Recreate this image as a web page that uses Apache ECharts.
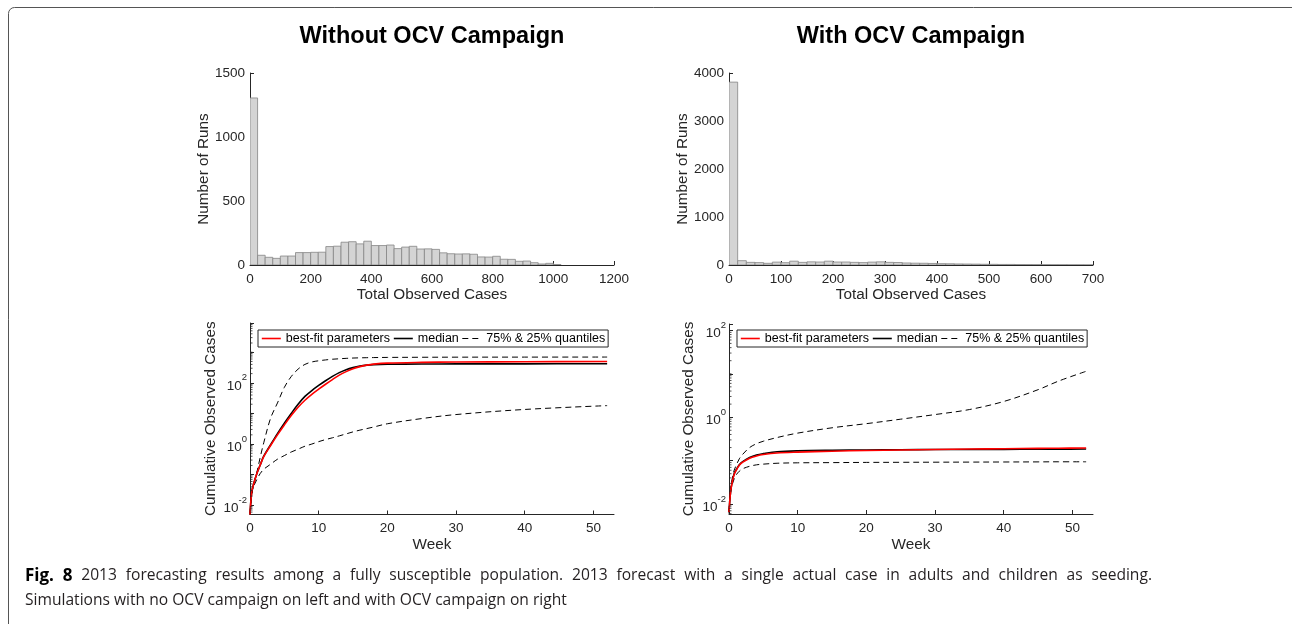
<!DOCTYPE html>
<html><head><meta charset="utf-8">
<script src="https://cdn.jsdelivr.net/npm/echarts@6/dist/echarts.min.js"></script>
<style>html,body{margin:0;padding:0;background:#fff}#c{width:1292px;height:624px}</style>
</head><body><div id="c"></div>
<script>
// ---------- DATA ----------
const noOcvBinWidth = 25;
const noOcvCounts = [1305, 76, 60, 52, 70, 70, 97, 97, 99, 100, 144, 147, 178, 182, 165, 186, 152, 152, 156, 128, 140, 146, 125, 126, 122, 95, 88, 86, 87, 84, 63, 62, 68, 45, 44, 29, 31, 18, 8, 13, 4];
const ocvBinWidth = 100 / 6;
const ocvCounts = [3810, 90, 55, 50, 35, 60, 48, 80, 55, 66, 62, 80, 62, 62, 55, 50, 60, 66, 55, 52, 42, 38, 36, 32, 28, 26, 22, 20, 18, 15, 14, 12, 12, 10, 9, 8, 7, 6, 5, 4, 4, 3];

const weeksL   = [0, 0.25, 0.5, 1, 1.5, 2, 3, 4, 5, 6, 7, 8, 9, 10, 11, 12, 13, 14, 15, 16, 17, 18, 20, 25, 30, 40, 52];
const bestFitL = [0.005, 0.027, 0.047, 0.11, 0.21, 0.39, 0.9, 2.0, 4.2, 8.5, 16, 27, 42, 62, 90, 128, 178, 232, 288, 338, 378, 408, 440, 465, 478, 490, 500];
const medianL  = [0.005, 0.027, 0.047, 0.11, 0.21, 0.40, 0.95, 2.2, 4.8, 10, 20, 36, 56, 82, 117, 162, 215, 268, 314, 352, 378, 393, 405, 412, 415, 417, 420];
const q75L     = [0.0056, 0.02, 0.045, 0.12, 0.38, 1.1, 7, 22, 71, 160, 280, 400, 480, 525, 560, 590, 610, 630, 645, 655, 662, 668, 676, 684, 689, 692, 695];
const q25L     = [0.005, 0.025, 0.04, 0.07, 0.11, 0.15, 0.22, 0.32, 0.42, 0.55, 0.68, 0.85, 1.0, 1.2, 1.4, 1.6, 1.85, 2.15, 2.5, 2.85, 3.2, 3.6, 4.6, 6.8, 9.2, 13.5, 18];

const weeksR   = [0, 0.1, 0.25, 0.5, 0.75, 1, 1.5, 2, 3, 4, 5, 7, 10, 15, 20, 25, 30, 35, 40, 45, 48, 52];
const bestFitR = [0.0065, 0.011, 0.02, 0.034, 0.048, 0.058, 0.078, 0.092, 0.114, 0.128, 0.138, 0.15, 0.157, 0.165, 0.171, 0.176, 0.181, 0.185, 0.188, 0.191, 0.193, 0.195];
const medianR  = [0.0065, 0.011, 0.02, 0.035, 0.05, 0.06, 0.08, 0.095, 0.118, 0.135, 0.145, 0.16, 0.168, 0.173, 0.176, 0.178, 0.18, 0.181, 0.182, 0.183, 0.184, 0.185];
const q75R     = [0.0066, 0.014, 0.023, 0.04, 0.06, 0.075, 0.11, 0.14, 0.2, 0.245, 0.28, 0.34, 0.43, 0.57, 0.71, 0.9, 1.15, 1.5, 2.3, 4.3, 6.8, 11.4];
const q25R     = [0.006, 0.0125, 0.02, 0.029, 0.038, 0.046, 0.057, 0.065, 0.074, 0.08, 0.083, 0.087, 0.089, 0.09, 0.091, 0.0915, 0.092, 0.0925, 0.093, 0.0935, 0.094, 0.094];

const logLabelExponents = [-2, 0, 2];
const minorMultipliers = [2, 3, 4, 5, 6, 7, 8, 9];
const minorDecades = [-3, -2, -1, 0, 1, 2, 3];

const captionLabel = 'Fig. 8';
const captionLine1 = '2013 forecasting results among a fully susceptible population. 2013 forecast with a single actual case in adults and children as seeding.';
const captionLine2 = 'Simulations with no OCV campaign on left and with OCV campaign on right';

// ---------- STYLE HELPERS ----------
const FONT = '"Liberation Sans", Arial, sans-serif';
const AX = '#262626';

function linAxis(gi, min, max, interval, name, nameGap, isY, showMax) {
  return {
    type: 'value', gridIndex: gi, min, max, interval, name,
    nameLocation: 'middle', nameGap,
    nameTextStyle: { fontFamily: FONT, fontSize: 15.3, color: AX },
    axisLine: { show: true, lineStyle: { color: AX, width: 1 } },
    axisTick: { show: true, inside: true, length: 4, lineStyle: { color: AX } },
    axisLabel: { fontFamily: FONT, fontSize: 13.5, color: AX, margin: isY ? 5 : 7,
      showMaxLabel: showMax, formatter: v => String(v) },
    splitLine: { show: false }
  };
}
function logAxis(gi, min, max, name, nameGap) {
  return {
    type: 'log', logBase: 10, gridIndex: gi, min, max, name,
    nameLocation: 'middle', nameGap,
    nameTextStyle: { fontFamily: FONT, fontSize: 15.3, color: AX },
    axisLine: { show: true, lineStyle: { color: AX, width: 1 } },
    axisTick: { show: true, inside: true, length: 4, lineStyle: { color: AX } },
    axisLabel: {
      fontFamily: FONT, color: AX, margin: 3,
      showMinLabel: true, showMaxLabel: true,
      formatter: function (v) {
        const e = Math.round(Math.log10(v));
        if (Math.abs(Math.log10(v) - e) > 1e-6 || logLabelExponents.indexOf(e) < 0) return '';
        return '{b|10}{s|' + e + '}';
      },
      rich: {
        b: { fontFamily: FONT, fontSize: 13.5, color: AX, lineHeight: 20, verticalAlign: 'bottom' },
        s: { fontFamily: FONT, fontSize: 9.5, color: AX, lineHeight: 20, verticalAlign: 'top' }
      }
    },
    splitLine: { show: false }
  };
}
function histSeries(counts, width, idx) {
  return {
    type: 'custom', xAxisIndex: idx, yAxisIndex: idx, silent: true, clip: true,
    data: counts.map((c, i) => [i * width, (i + 1) * width, c]),
    encode: { x: [0, 1], y: 2 },
    renderItem: function (params, api) {
      const p0 = api.coord([api.value(0), api.value(2)]);
      const p1 = api.coord([api.value(1), 0]);
      return { type: 'rect', shape: { x: p0[0], y: p0[1], width: p1[0] - p0[0], height: p1[1] - p0[1] },
        style: { fill: '#d4d4d4', stroke: '#858585', lineWidth: 0.8 } };
    }
  };
}
function lineSeries(name, weeks, vals, idx, color, width, dashed) {
  return {
    type: 'line', name, xAxisIndex: idx, yAxisIndex: idx, symbol: 'none', showSymbol: false, smooth: 0.35,
    data: weeks.map((w, i) => [w, vals[i]]),
    lineStyle: { color, width, type: dashed ? [6, 4] : 'solid' },
    itemStyle: { color }, silent: true, z: dashed ? 3 : (color === '#000000' ? 4 : 5)
  };
}
function minorTickSeries(idx, vmin, vmax) {
  const vals = [];
  minorDecades.forEach(d => {
    [1].concat(minorMultipliers).forEach(m => {
      const v = m * Math.pow(10, d);
      if (v > vmin && v < vmax && !(m === 1 && logLabelExponents.indexOf(d) >= 0)) vals.push([0, v]);
    });
  });
  return {
    type: 'custom', xAxisIndex: idx, yAxisIndex: idx, silent: true, clip: false, z: 6,
    data: vals, encode: { x: 0, y: 1 },
    renderItem: function (params, api) {
      const p = api.coord([api.value(0), api.value(1)]);
      return { type: 'line', shape: { x1: p[0], y1: p[1], x2: p[0] + 2.5, y2: p[1] },
        style: { stroke: AX, lineWidth: 0.8 } };
    }
  };
}
function legendAt(left, top) {
  const hidden = { color: 'rgba(0,0,0,0)', borderWidth: 0, borderColor: 'rgba(0,0,0,0)' };
  return {
    left, top, orient: 'horizontal',
    data: [
      { name: 'best-fit parameters', itemStyle: hidden, lineStyle: { color: '#ff0000', width: 1.6, type: 'solid' } },
      { name: 'median', itemStyle: hidden, lineStyle: { color: '#000000', width: 1.6, type: 'solid' } },
      { name: '75% & 25% quantiles', itemStyle: hidden, lineStyle: { color: '#000000', width: 1, type: [6, 4] } }
    ],
    itemWidth: 19, itemHeight: 10, itemGap: 3, padding: [2, 3],
    borderColor: AX, borderWidth: 1, backgroundColor: '#ffffff',
    textStyle: { fontFamily: FONT, fontSize: 12.5, color: '#000' },
    selectedMode: false
  };
}

// ---------- CAPTION (justified first line) ----------
const CAP = '"Open Sans", sans-serif';
const CAP_SIZE = 15.6, CAP_BOLD_SIZE = 17;
function captionGraphics() {
  const ctx = document.createElement('canvas').getContext('2d');
  const words = [];
  captionLabel.split(' ').forEach(w => words.push({ t: w, bold: true }));
  captionLine1.split(' ').forEach(w => words.push({ t: w, bold: false }));
  let total = 0;
  words.forEach(w => {
    ctx.font = (w.bold ? 'bold ' + CAP_BOLD_SIZE : CAP_SIZE) + 'px ' + CAP;
    w.w = ctx.measureText(w.t).width; total += w.w;
  });
  const x0 = 25, x1 = 1152;
  const gap = (x1 - x0 - total) / (words.length - 1);
  const els = [];
  let x = x0;
  words.forEach(w => {
    els.push({ type: 'text', silent: true, x, y: 576, style: { text: w.t, textVerticalAlign: 'middle',
      font: (w.bold ? 'bold ' + CAP_BOLD_SIZE : CAP_SIZE) + 'px ' + CAP, fill: w.bold ? '#000' : '#231f20' } });
    x += w.w + gap;
  });
  els.push({ type: 'text', silent: true, x: 25, y: 601, style: { text: captionLine2, textVerticalAlign: 'middle',
    font: CAP_SIZE + 'px ' + CAP, fill: '#231f20' } });
  return els;
}

const yMinL = 0.005, yMaxL = 9000, yMinR = 0.0059, yMaxR = 140;

const option = {
  animation: false,
  backgroundColor: '#ffffff',
  grid: [
    { left: 250, top: 73, width: 364, height: 192 },
    { left: 729, top: 73, width: 364, height: 192 },
    { left: 250, top: 323, width: 364, height: 191.5 },
    { left: 729, top: 324, width: 364, height: 190 }
  ],
  xAxis: [
    linAxis(0, 0, 1200, 200, 'Total Observed Cases', 22, false, true),
    linAxis(1, 0, 700, 100, 'Total Observed Cases', 22, false, true),
    linAxis(2, 0, 53, 10, 'Week', 23, false, false),
    linAxis(3, 0, 53, 10, 'Week', 23, false, false)
  ],
  yAxis: [
    linAxis(0, 0, 1500, 500, 'Number of Runs', 34, true, true),
    linAxis(1, 0, 4000, 1000, 'Number of Runs', 33, true, true),
    logAxis(2, yMinL, yMaxL, 'Cumulative Observed Cases', 32),
    logAxis(3, yMinR, yMaxR, 'Cumulative Observed Cases', 33)
  ],
  legend: [legendAt(258, 330), legendAt(737, 330)],
  series: [
    histSeries(noOcvCounts, noOcvBinWidth, 0),
    histSeries(ocvCounts, ocvBinWidth, 1),
    lineSeries('75% & 25% quantiles', weeksL, q75L, 2, '#000000', 1, true),
    lineSeries('75% & 25% quantiles', weeksL, q25L, 2, '#000000', 1, true),
    lineSeries('median', weeksL, medianL, 2, '#000000', 1.6, false),
    lineSeries('best-fit parameters', weeksL, bestFitL, 2, '#ff0000', 1.6, false),
    lineSeries('75% & 25% quantiles', weeksR, q75R, 3, '#000000', 1, true),
    lineSeries('75% & 25% quantiles', weeksR, q25R, 3, '#000000', 1, true),
    lineSeries('best-fit parameters', weeksR, bestFitR, 3, '#ff0000', 1.6, false),
    lineSeries('median', weeksR, medianR, 3, '#000000', 1.6, false),
    minorTickSeries(2, yMinL, yMaxL),
    minorTickSeries(3, yMinR, yMaxR)
  ],
  graphic: [
    { type: 'rect', silent: true, shape: { x: 8.5, y: 7.5, width: 1300, height: 700, r: 6 },
      style: { fill: 'none', stroke: '#555555', lineWidth: 1 } },
    { type: 'text', silent: true, x: 432, y: 37, style: { text: 'Without OCV Campaign', textAlign: 'center', textVerticalAlign: 'middle',
      font: 'bold 23.5px "Liberation Sans", Arial, sans-serif', fill: '#000' } },
    { type: 'text', silent: true, x: 911, y: 37, style: { text: 'With OCV Campaign', textAlign: 'center', textVerticalAlign: 'middle',
      font: 'bold 23.5px "Liberation Sans", Arial, sans-serif', fill: '#000' } }
  ].concat(captionGraphics())
};
const chart = echarts.init(document.getElementById('c'), null, { renderer: 'canvas' });
chart.setOption(option);
</script>
</body></html>
